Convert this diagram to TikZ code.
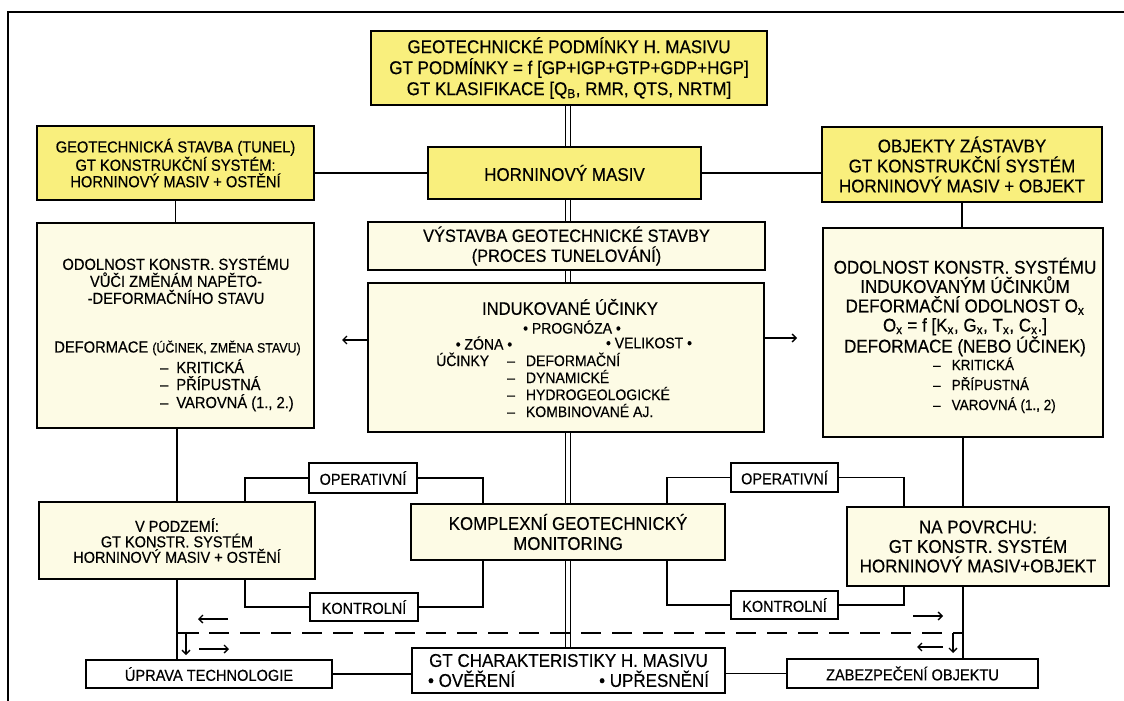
\documentclass[tikz,border=0pt]{standalone}
\usepackage{fontspec}
\setmainfont{Liberation Sans}[FakeStretch=0.92, Scale=1.087, FakeBold=0.4]
\usepackage{tikz}
\usetikzlibrary{arrows.meta}

\definecolor{gtyellow}{RGB}{249,239,125}
\definecolor{gtpale}{RGB}{253,251,229}

\begin{document}
\begin{tikzpicture}[
    x=1pt, y=-1pt,
    ybox/.style={draw, line width=1.6pt, fill=gtyellow, align=center, inner sep=1pt},
    pbox/.style={ybox, fill=gtpale},
    wbox/.style={ybox, fill=white},
    boxsize/.style 2 args={minimum width=#1pt, minimum height=#2pt},
    link/.style={line width=1.4pt},
    dbl/.style={line width=1.2pt, double, double distance=3.6pt},
    arr/.style={line width=1.3pt, -{Straight Barb[length=4pt, width=8pt]}},
    item/.style={anchor=base west, inner sep=0pt}
]
    \useasboundingbox (0,0) rectangle (1124,701);
    \draw[link] (1124,12) -- (8,12) -- (8,701);

    % upper part
    \node[ybox, boxsize={396}{74}, font=\fontsize{17}{21}\selectfont] (cond) at (569,68)
        {GEOTECHNICKÉ PODMÍNKY H. MASIVU\\GT PODMÍNKY = f [GP+IGP+GTP+GDP+HGP]\\GT KLASIFIKACE [Q\textsubscript{B}, RMR, QTS, NRTM]};
    \node[ybox, boxsize={277}{74}, font=\fontsize{14.7}{16.5}\selectfont] (tunnel) at (175.5,163)
        {GEOTECHNICKÁ STAVBA (TUNEL)\\GT KONSTRUKČNÍ SYSTÉM:\\HORNINOVÝ MASIV + OSTĚNÍ};
    \node[ybox, boxsize={273}{52}, font=\fontsize{17}{20}\selectfont] (massif) at (564.5,173) {HORNINOVÝ MASIV};
    \node[ybox, boxsize={280}{75}, font=\fontsize{17}{20}\selectfont] (objects) at (962,164.5)
        {OBJEKTY ZÁSTAVBY\\GT KONSTRUKČNÍ SYSTÉM\\HORNINOVÝ MASIV + OBJEKT};

    \node[pbox, boxsize={397}{48}, font=\fontsize{16.4}{20}\selectfont] (build) at (566.5,246)
        {VÝSTAVBA GEOTECHNICKÉ STAVBY\\(PROCES TUNELOVÁNÍ)};

    % resistance, left
    \node[pbox, boxsize={277}{205}] (resistL) at (175.5,325.5) {};
    \node[font=\fontsize{14.7}{17}\selectfont, align=center] (resistLtxt) at (176,280)
        {ODOLNOST KONSTR. SYSTÉMU\\VŮČI ZMĚNÁM NAPĚTO-\\-DEFORMAČNÍHO STAVU};
    \node[font=\fontsize{14.7}{17}\selectfont] (deformL) at (177.5,348)
        {DEFORMACE {\fontsize{12.4}{14}\selectfont(ÚČINEK, ZMĚNA STAVU)}};
    \node[item, font=\fontsize{14.7}{17}\selectfont] (critL) at (160,373) {–\hspace{8pt}KRITICKÁ};
    \node[item, font=\fontsize{14.7}{17}\selectfont] (allowL) at (160,390) {–\hspace{8pt}PŘÍPUSTNÁ};
    \node[item, font=\fontsize{14.7}{17}\selectfont] (warnL) at (160,408) {–\hspace{8pt}VAROVNÁ (1., 2.)};

    % induced effects
    \node[pbox, boxsize={396}{149}] (induced) at (566,357.5) {};
    \node[font=\fontsize{16.6}{20}\selectfont] (indTitle) at (570,307) {INDUKOVANÉ ÚČINKY};
    \node[font=\fontsize{14}{17}\selectfont] (forecast) at (572,327) {• PROGNÓZA •};
    \node[font=\fontsize{14}{17}\selectfont] (zone) at (484,343) {• ZÓNA •};
    \node[font=\fontsize{14}{17}\selectfont] (magnitude) at (649,343) {• VELIKOST •};
    \node[item, font=\fontsize{14}{17}\selectfont] (effects) at (436,366) {ÚČINKY};
    \node[item, font=\fontsize{14}{17}\selectfont] (effDef) at (507,366) {–\hspace{11pt}DEFORMAČNÍ};
    \node[item, font=\fontsize{14}{17}\selectfont] (effDyn) at (507,383) {–\hspace{11pt}DYNAMICKÉ};
    \node[item, font=\fontsize{14}{17}\selectfont] (effHyd) at (507,400) {–\hspace{11pt}HYDROGEOLOGICKÉ};
    \node[item, font=\fontsize{14}{17}\selectfont] (effComb) at (507,417) {–\hspace{11pt}KOMBINOVANÉ AJ.};

    % resistance, right
    \node[pbox, boxsize={280}{209}] (resistR) at (963,332.5) {};
    \node[font=\fontsize{17}{19.3}\selectfont, align=center] (resistRtxt) at (965,307)
        {ODOLNOST KONSTR. SYSTÉMU\\INDUKOVANÝM ÚČINKŮM\\DEFORMAČNÍ ODOLNOST O\textsubscript{x}\\
         O\textsubscript{x} = f [K\textsubscript{x}, G\textsubscript{x}, T\textsubscript{x}, C\textsubscript{x}.]\\DEFORMACE (NEBO ÚČINEK)};
    \node[item, font=\fontsize{13.5}{17}\selectfont] (critR) at (933,370) {–\hspace{11pt}KRITICKÁ};
    \node[item, font=\fontsize{13.5}{17}\selectfont] (allowR) at (933,390) {–\hspace{11pt}PŘÍPUSTNÁ};
    \node[item, font=\fontsize{13.5}{17}\selectfont] (warnR) at (933,410) {–\hspace{11pt}VAROVNÁ (1., 2)};

    % monitoring
    \node[pbox, boxsize={276}{77}, font=\fontsize{14.5}{15.5}\selectfont] (under) at (177,540.5)
        {V PODZEMÍ:\\GT KONSTR. SYSTÉM\\HORNINOVÝ MASIV + OSTĚNÍ};
    \node[wbox, boxsize={108}{30}, font=\fontsize{14.5}{17}\selectfont] (operL) at (363,478) {OPERATIVNÍ};
    \node[wbox, boxsize={108}{28}, font=\fontsize{14.5}{17}\selectfont] (kontL) at (364,607) {KONTROLNÍ};
    \node[pbox, boxsize={314}{56}, font=\fontsize{16.9}{20}\selectfont] (monitor) at (568,532)
        {KOMPLEXNÍ GEOTECHNICKÝ\\MONITORING};
    \node[wbox, boxsize={107}{29}, font=\fontsize{14.5}{17}\selectfont] (operR) at (784.5,477.5) {OPERATIVNÍ};
    \node[wbox, boxsize={107}{28}, font=\fontsize{14.5}{17}\selectfont] (kontR) at (784.5,605) {KONTROLNÍ};
    \node[pbox, boxsize={262}{79}, font=\fontsize{17}{19.5}\selectfont] (surface) at (978,546.5)
        {NA POVRCHU:\\GT KONSTR. SYSTÉM\\HORNINOVÝ MASIV+OBJEKT};

    % bottom row
    \node[wbox, boxsize={246}{28}, font=\fontsize{14.6}{17}\selectfont] (tech) at (209,674) {ÚPRAVA TECHNOLOGIE};
    \node[wbox, boxsize={313}{45}, font=\fontsize{17}{20}\selectfont] (charac) at (568.5,670.5)
        {GT CHARAKTERISTIKY H. MASIVU\\\makebox[281pt]{• OVĚŘENÍ\hfill• UPŘESNĚNÍ}};
    \node[wbox, boxsize={251}{29}, font=\fontsize{14.6}{17}\selectfont] (secure) at (912.5,673.5) {ZABEZPEČENÍ OBJEKTU};

    % helper coordinates
    \coordinate (axis) at (568,0);
    \coordinate (jL) at (245,0);
    \coordinate (kL) at (483,0);
    \coordinate (kR) at (667,0);
    \coordinate (jR) at (904,0);
    \coordinate (dashy) at (0,633);
    \coordinate (arrL) at (342,340);
    \coordinate (arrR) at (797,338);
    \coordinate (dL) at (under.south |- dashy);
    \coordinate (dR) at (resistR.south |- dashy);

    % main axis
    \draw[dbl] (cond.south -| axis) -- (massif.north -| axis);
    \draw[dbl] (massif.south -| axis) -- (build.north -| axis);
    \draw[dbl] (build.south -| axis) -- (induced.north -| axis);
    \draw[dbl] (induced.south -| axis) -- (monitor.north -| axis);
    \draw[dbl] (monitor.south -| axis) -- (charac.north -| axis);

    \draw[link] (massif.west) -- (massif.west -| tunnel.east);
    \draw[link] (massif.east) -- (massif.east -| objects.west);
    \draw[link] (tunnel.south) -- (tunnel.south |- resistL.north);
    \draw[link] (objects.south) -- (objects.south |- resistR.north);
    \draw[link] (under.north) -- (under.north |- resistL.south);
    \draw[link] (resistR.south) -- (resistR.south |- surface.north);
    \draw[link] (under.south) -- (under.south |- tech.north);
    \draw[link] (resistR.south |- surface.south) -- (resistR.south |- secure.north);

    \draw[arr] (arrL -| induced.west) -- (arrL);
    \draw[arr] (arrR -| induced.east) -- (arrR);

    \draw[link] (under.north -| jL) |- (operL.west);
    \draw[link] (operL.east) -| (monitor.north -| kL);
    \draw[link] (under.south -| jL) |- (kontL.west);
    \draw[link] (kontL.east) -| (monitor.south -| kL);
    \draw[link] (monitor.north -| kR) |- (operR.west);
    \draw[link] (operR.east) -| (surface.north -| jR);
    \draw[link] (monitor.south -| kR) |- (kontR.west);
    \draw[link] (kontR.east) -| (surface.south -| jR);

    \draw[link] (tech.east) -- (tech.east -| charac.west);
    \draw[link] (secure.west -| charac.east) -- (secure.west);

    % feedback
    \draw[link] (dL) -- ([xshift=22pt]dL);
    \draw[link, dash pattern=on 20pt off 11pt] ([xshift=32pt]dL) -- ([xshift=-18pt]dR);
    \draw[link] ([xshift=-10pt]dR) -- (dR);
    \draw[arr] ([xshift=9pt]dL) -- ([xshift=9pt, yshift=-22pt]dL);
    \draw[arr] ([xshift=-10pt]dR) -- ([xshift=-10pt, yshift=-20pt]dR);
    \draw[arr] ([xshift=51pt, yshift=14pt]dL) -- ([xshift=21pt, yshift=14pt]dL);
    \draw[arr] ([xshift=22pt, yshift=-16pt]dL) -- ([xshift=52pt, yshift=-16pt]dL);
    \draw[arr] ([xshift=-50pt, yshift=17pt]dR) -- ([xshift=-20pt, yshift=17pt]dR);
    \draw[arr] ([xshift=-20pt, yshift=-14pt]dR) -- ([xshift=-46pt, yshift=-14pt]dR);
\end{tikzpicture}
\end{document}
